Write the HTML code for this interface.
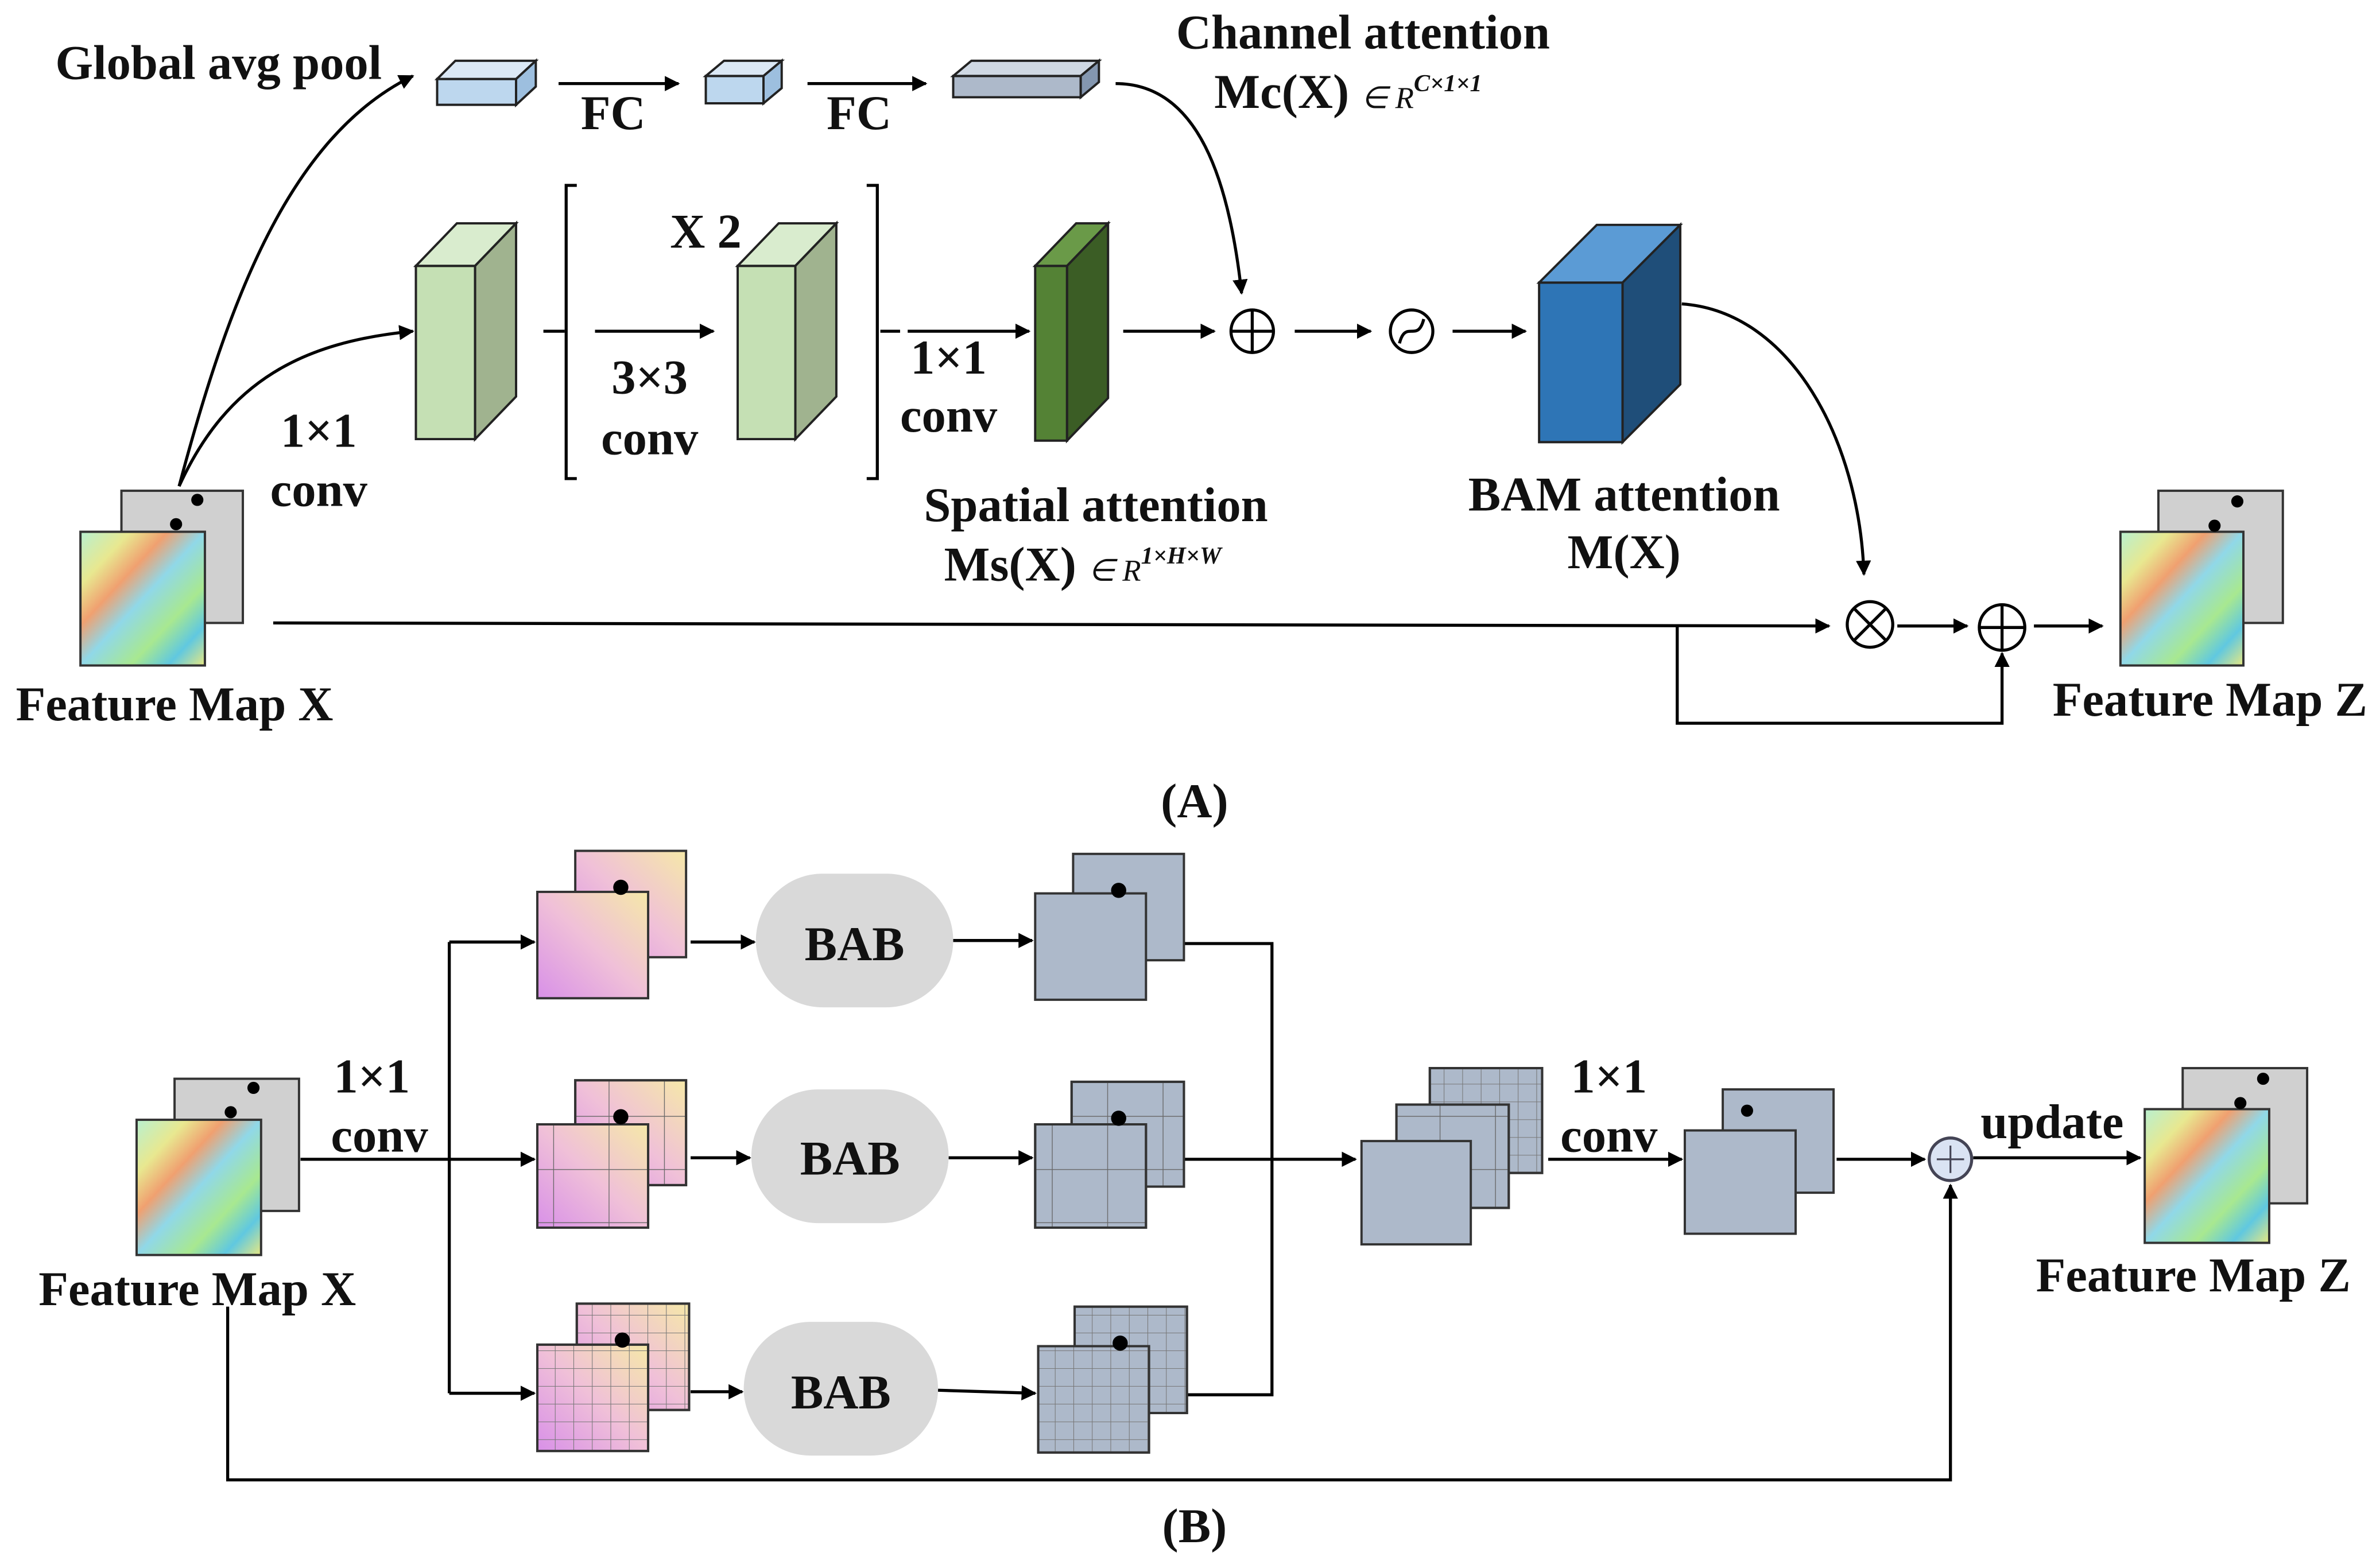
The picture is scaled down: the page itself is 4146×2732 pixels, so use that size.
<!DOCTYPE html>
<html><head><meta charset="utf-8">
<style>
html,body{margin:0;padding:0;background:#fff;}
svg{display:block;}
text{font-family:"Liberation Serif",serif;font-weight:bold;fill:#111;}
</style></head>
<body>
<svg width="4146" height="2732" viewBox="0 0 1568 1032" preserveAspectRatio="none" xmlns="http://www.w3.org/2000/svg">
<defs>
<marker id="ar" markerWidth="10" markerHeight="10" refX="9" refY="5" orient="auto" markerUnits="userSpaceOnUse">
<path d="M0,0 L10,5 L0,10 z" fill="#000"/></marker>
<linearGradient id="img" x1="0" y1="0" x2="1" y2="1">
<stop offset="0" stop-color="#b8f0d0"/><stop offset="0.2" stop-color="#e8e890"/>
<stop offset="0.35" stop-color="#f0a070"/><stop offset="0.5" stop-color="#90d8e8"/>
<stop offset="0.7" stop-color="#a8e890"/><stop offset="0.85" stop-color="#60c8e0"/><stop offset="1" stop-color="#e8e880"/></linearGradient>
<linearGradient id="pink" x1="1" y1="0" x2="0" y2="1">
<stop offset="0" stop-color="#f5e8a8"/><stop offset="0.5" stop-color="#f0c0d8"/><stop offset="1" stop-color="#d890e8"/></linearGradient>
<pattern id="g2" width="36.5" height="35" patternUnits="userSpaceOnUse"><path d="M36.5,0 V35 M0,35 H36.5" stroke="#666" stroke-width="1" fill="none"/></pattern>
<pattern id="g6" width="12.2" height="11.7" patternUnits="userSpaceOnUse"><path d="M12.2,0 V11.7 M0,11.7 H12.2" stroke="#777" stroke-width="0.8" fill="none"/></pattern>
</defs>
<g stroke="#000" stroke-width="2" fill="none">
<path d="M118,320 C150,200 190,90 272,50" marker-end="url(#ar)"/>
<path d="M118,320 C150,250 200,225 272,218" marker-end="url(#ar)"/>
<line x1="368" y1="55" x2="447" y2="55" marker-end="url(#ar)"/>
<line x1="532" y1="55" x2="610" y2="55" marker-end="url(#ar)"/>
<path d="M735,55 C790,55 810,120 818,193" marker-end="url(#ar)"/>
<line x1="358" y1="218" x2="372" y2="218"/>
<path d="M380,122 H373 V315 H380"/>
<path d="M571,122 H578 V315 H571"/>
<line x1="392" y1="218" x2="470" y2="218" marker-end="url(#ar)"/>
<line x1="580" y1="218" x2="593" y2="218"/>
<line x1="598" y1="218" x2="678" y2="218" marker-end="url(#ar)"/>
<line x1="740" y1="218" x2="800" y2="218" marker-end="url(#ar)"/>
<line x1="853" y1="218" x2="903" y2="218" marker-end="url(#ar)"/>
<line x1="957" y1="218" x2="1005" y2="218" marker-end="url(#ar)"/>
<path d="M1108,200 C1180,205 1225,290 1228,378" marker-end="url(#ar)"/>
<line x1="180" y1="410" x2="1205" y2="412" marker-end="url(#ar)"/>
<line x1="1250" y1="412" x2="1296" y2="412" marker-end="url(#ar)"/>
<line x1="1340" y1="412" x2="1385" y2="412" marker-end="url(#ar)"/>
<path d="M1105,412 V476 H1319 V430" marker-end="url(#ar)"/>
<line x1="198" y1="763" x2="296" y2="763"/>
<line x1="296" y1="620" x2="296" y2="917"/>
<line x1="296" y1="620" x2="352" y2="620" marker-end="url(#ar)"/>
<line x1="296" y1="763" x2="352" y2="763" marker-end="url(#ar)"/>
<line x1="296" y1="917" x2="352" y2="917" marker-end="url(#ar)"/>
<line x1="455" y1="620" x2="497" y2="620" marker-end="url(#ar)"/>
<line x1="455" y1="762" x2="494" y2="762" marker-end="url(#ar)"/>
<line x1="455" y1="916" x2="489" y2="916" marker-end="url(#ar)"/>
<line x1="628" y1="619" x2="680" y2="619" marker-end="url(#ar)"/>
<line x1="625" y1="762" x2="680" y2="762" marker-end="url(#ar)"/>
<line x1="618" y1="915" x2="682" y2="917" marker-end="url(#ar)"/>
<path d="M767,621 H838 V918 H767"/>
<line x1="767" y1="763" x2="893" y2="763" marker-end="url(#ar)"/>
<line x1="1020" y1="763" x2="1108" y2="763" marker-end="url(#ar)"/>
<line x1="1210" y1="763" x2="1268" y2="763" marker-end="url(#ar)"/>
<line x1="1300" y1="762" x2="1410" y2="762" marker-end="url(#ar)"/>
<path d="M150,860 V974 H1285 V780" marker-end="url(#ar)"/>
</g>

<g stroke="#222" stroke-width="1.5">
<polygon points="288,52 340,52 340,69 288,69" fill="#bdd7ee"/>
<polygon points="288,52 300,40 353,40 340,52" fill="#dbe8f5"/>
<polygon points="340,52 353,40 353,57 340,69" fill="#9dbfdf"/>
<polygon points="465,50 503,50 503,68 465,68" fill="#bdd7ee"/>
<polygon points="465,50 477,40 515,40 503,50" fill="#dbe8f5"/>
<polygon points="503,50 515,40 515,58 503,68" fill="#9dbfdf"/>
<polygon points="628,50 712,50 712,64 628,64" fill="#adb9ca"/>
<polygon points="628,50 640,40 724,40 712,50" fill="#cfd8e3"/>
<polygon points="712,50 724,40 724,54 712,64" fill="#8497b0"/>
<polygon points="274,175 313,175 313,289 274,289" fill="#c5e0b4"/>
<polygon points="274,175 301,147 340,147 313,175" fill="#d9ecce"/>
<polygon points="313,175 340,147 340,261 313,289" fill="#a0b38f"/>
<polygon points="486,175 524,175 524,289 486,289" fill="#c5e0b4"/>
<polygon points="486,175 513,147 551,147 524,175" fill="#d9ecce"/>
<polygon points="524,175 551,147 551,261 524,289" fill="#a0b38f"/>
<polygon points="682,175 703,175 703,290 682,290" fill="#548235"/>
<polygon points="682,175 709,147 730,147 703,175" fill="#6a9a48"/>
<polygon points="703,175 730,147 730,262 703,290" fill="#3b5d25"/>
<polygon points="1014,186 1069,186 1069,291 1014,291" fill="#2e75b6"/>
<polygon points="1014,186 1052,148 1107,148 1069,186" fill="#5b9bd5"/>
<polygon points="1069,186 1107,148 1107,253 1069,291" fill="#1f4e79"/>
</g>

<g stroke="#000" stroke-width="2" fill="#fff">
<circle cx="825" cy="218" r="14"/><path d="M811,218 H839 M825,204 V232"/>
<circle cx="930" cy="218" r="14"/><path d="M922,226 C926,210 934,226 938,210" fill="none"/>
<circle cx="1232" cy="411" r="15"/><path d="M1221,400 L1243,422 M1243,400 L1221,422"/>
<circle cx="1319" cy="413" r="15"/><path d="M1304,413 H1334 M1319,398 V428"/>
<circle cx="1285" cy="763" r="14" fill="#dae3f3" stroke="#445"/><path d="M1276,763 H1294 M1285,754 V772" stroke="#445" stroke-width="1.2"/>
</g>

<g stroke="#333" stroke-width="1.5">
<rect x="80" y="323" width="80" height="87" fill="#d0d0d0"/>
<rect x="53" y="350" width="82" height="88" fill="url(#img)"/>
<rect x="1422" y="323" width="82" height="87" fill="#d0d0d0"/>
<rect x="1397" y="350" width="81" height="88" fill="url(#img)"/>
<rect x="115" y="710" width="82" height="87" fill="#d0d0d0"/>
<rect x="90" y="737" width="82" height="89" fill="url(#img)"/>
<rect x="1438" y="703" width="82" height="89" fill="#d0d0d0"/>
<rect x="1413" y="730" width="82" height="88" fill="url(#img)"/>
<rect x="379" y="560" width="73" height="70" fill="url(#pink)"/>
<rect x="354" y="587" width="73" height="70" fill="url(#pink)"/>
<rect x="379" y="711" width="73" height="69" fill="url(#pink)"/>
<rect x="379" y="711" width="73" height="69" fill="url(#g2)"/>
<rect x="354" y="740" width="73" height="68" fill="url(#pink)"/>
<rect x="354" y="740" width="73" height="68" fill="url(#g2)"/>
<rect x="380" y="858" width="74" height="70" fill="url(#pink)"/>
<rect x="380" y="858" width="74" height="70" fill="url(#g6)"/>
<rect x="354" y="885" width="73" height="70" fill="url(#pink)"/>
<rect x="354" y="885" width="73" height="70" fill="url(#g6)"/>
<rect x="707" y="562" width="73" height="70" fill="#adb9ca"/>
<rect x="682" y="588" width="73" height="70" fill="#adb9ca"/>
<rect x="706" y="712" width="74" height="69" fill="#adb9ca"/>
<rect x="706" y="712" width="74" height="69" fill="url(#g2)"/>
<rect x="682" y="740" width="73" height="68" fill="#adb9ca"/>
<rect x="682" y="740" width="73" height="68" fill="url(#g2)"/>
<rect x="708" y="860" width="74" height="70" fill="#adb9ca"/>
<rect x="708" y="860" width="74" height="70" fill="url(#g6)"/>
<rect x="684" y="886" width="73" height="70" fill="#adb9ca"/>
<rect x="684" y="886" width="73" height="70" fill="url(#g6)"/>
<rect x="942" y="703" width="74" height="69" fill="#adb9ca"/>
<rect x="942" y="703" width="74" height="69" fill="url(#g6)"/>
<rect x="920" y="727" width="74" height="68" fill="#adb9ca"/>
<rect x="920" y="727" width="74" height="68" fill="url(#g2)"/>
<rect x="897" y="751" width="72" height="68" fill="#adb9ca"/>
<rect x="1135" y="717" width="73" height="68" fill="#adb9ca"/>
<rect x="1110" y="744" width="73" height="68" fill="#adb9ca"/>
</g>
<g fill="#000">
<circle cx="130" cy="329" r="4"/><circle cx="116" cy="345" r="4"/>
<circle cx="1474" cy="330" r="4"/><circle cx="1459" cy="346" r="4"/>
<circle cx="167" cy="716" r="4"/><circle cx="152" cy="732" r="4"/>
<circle cx="1491" cy="710" r="4"/><circle cx="1476" cy="726" r="4"/>
<circle cx="409" cy="584" r="5"/><circle cx="409" cy="735" r="5"/><circle cx="410" cy="882" r="5"/>
<circle cx="737" cy="586" r="5"/><circle cx="737" cy="736" r="5"/><circle cx="738" cy="884" r="5"/>
<circle cx="1151" cy="731" r="4"/>
</g>
<g fill="#d9d9d9">
<rect x="498" y="575" width="130" height="88" rx="44"/>
<rect x="495" y="717" width="130" height="88" rx="44"/>
<rect x="490" y="870" width="128" height="88" rx="44"/>
</g>

<g font-size="32" text-anchor="middle">
<text x="144" y="52">Global avg pool</text>
<text x="404" y="85">FC</text>
<text x="566" y="85">FC</text>
<text x="898" y="32">Channel attention</text>
<text x="800" y="71" text-anchor="start">Mc(X) <tspan font-size="20" font-weight="normal" font-style="italic">∈ R</tspan><tspan font-size="16" font-style="italic" dy="-11">C×1×1</tspan></text>
<text x="465" y="163">X 2</text>
<text x="428" y="259">3×3</text>
<text x="428" y="299">conv</text>
<text x="625" y="246">1×1</text>
<text x="625" y="284">conv</text>
<text x="210" y="294">1×1</text>
<text x="210" y="333">conv</text>
<text x="722" y="343">Spatial attention</text>
<text x="622" y="382" text-anchor="start">Ms(X) <tspan font-size="20" font-weight="normal" font-style="italic">∈ R</tspan><tspan font-size="16" font-style="italic" dy="-11">1×H×W</tspan></text>
<text x="1070" y="336">BAM attention</text>
<text x="1070" y="374">M(X)</text>
<text x="115" y="474">Feature Map X</text>
<text x="1456" y="471">Feature Map Z</text>
<text x="787" y="538" font-weight="normal">(<tspan font-weight="bold">A</tspan>)</text>
<text x="245" y="719">1×1</text>
<text x="250" y="758">conv</text>
<text x="563" y="632">BAB</text>
<text x="560" y="773">BAB</text>
<text x="554" y="927">BAB</text>
<text x="1060" y="719">1×1</text>
<text x="1060" y="758">conv</text>
<text x="1352" y="749">update</text>
<text x="130" y="859">Feature Map X</text>
<text x="1445" y="850">Feature Map Z</text>
<text x="787" y="1015" font-weight="normal">(<tspan font-weight="bold">B</tspan>)</text>
</g>
</svg>
</body></html>
